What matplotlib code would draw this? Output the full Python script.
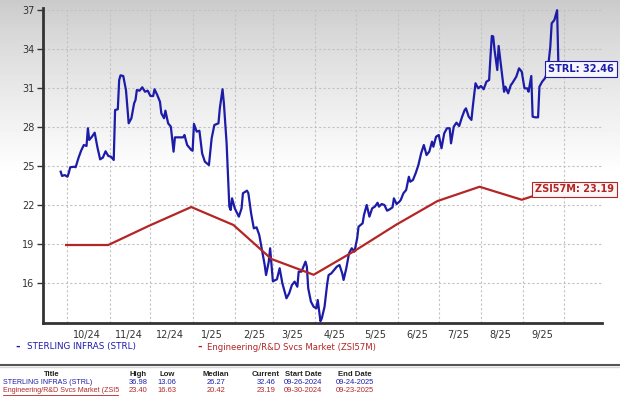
import numpy as np
import matplotlib.pyplot as plt
import matplotlib.transforms as mtransforms
from matplotlib.lines import Line2D

# STRL: days since 2024-09-26 and value
strl_days = [0, 1, 3, 5, 6, 7, 10, 11, 13, 15, 17, 19, 20, 21, 23, 25, 27, 29, 31, 33,
             35, 37, 39, 40, 42, 43, 44, 46, 48, 50, 52, 54, 55, 56, 58, 60, 62, 64, 66, 68,
             69, 71, 73, 74, 76, 77, 79, 81, 83, 84, 88, 90, 91, 93, 96, 97, 98, 100, 102, 104,
             106, 109, 111, 113, 116, 117, 119, 120, 122, 124, 125, 126, 128, 131, 133, 134, 137, 138, 140, 142,
             144, 146, 148, 150, 151, 153, 154, 156, 159, 161, 163, 165, 166, 168, 170, 172, 174, 175, 177, 180,
             181, 182, 184, 186, 188, 189, 191, 192, 194, 196, 197, 199, 201, 203, 205, 207, 208, 210, 212, 214,
             216, 218, 219, 222, 223, 225, 227, 229, 231, 233, 234, 236, 238, 240, 242, 244, 245, 247, 249, 250,
             252, 254, 256, 257, 259, 261, 263, 265, 267, 269, 271, 273, 274, 276, 278, 280, 282, 284, 286, 287,
             289, 291, 293, 295, 297, 298, 300, 302, 303, 305, 307, 309, 311, 313, 315, 316, 317, 318, 319, 321,
             322, 324, 325, 326, 327, 329, 331, 332, 335, 337, 339, 341, 343, 344, 346, 347, 349, 351, 352, 354,
             356, 358, 360, 361, 363, 365, 366]
strl_vals = [24.56, 24.23, 24.30, 24.17, 24.48, 24.90, 24.94, 24.90, 25.59, 26.17, 26.61, 26.54, 27.90, 27.00, 27.25, 27.56, 26.44, 25.51, 25.64, 26.13,
             25.77, 25.71, 25.46, 29.30, 29.36, 31.61, 31.97, 31.92, 30.84, 28.28, 28.67, 29.82, 30.07, 30.84, 30.79, 31.05, 30.71, 30.79, 30.38, 30.38,
             30.90, 30.46, 29.94, 29.05, 28.67, 29.25, 28.28, 28.02, 26.10, 27.20, 27.20, 27.20, 27.38, 26.61, 26.23, 26.17, 28.23, 27.64, 27.71, 25.97,
             25.33, 25.07, 27.13, 28.15, 28.28, 29.43, 30.90, 29.82, 26.74, 21.87, 21.61, 22.51, 21.74, 21.10, 21.74, 22.90, 23.10, 22.90, 21.36, 20.20,
             20.28, 19.69, 18.53, 17.38, 16.61, 17.64, 18.67, 16.13, 16.28, 17.13, 15.97, 15.20, 14.82, 15.20, 15.84, 16.10, 15.71, 16.87, 16.87, 17.64,
             17.25, 15.59, 14.56, 14.17, 14.05, 14.69, 13.06, 13.28, 14.17, 15.97, 16.61, 16.74, 17.00, 17.25, 17.38, 16.74, 16.23, 17.13, 18.28, 18.67,
             18.41, 19.44, 20.33, 20.59, 21.23, 22.00, 21.10, 21.74, 21.87, 22.17, 21.87, 22.07, 22.00, 21.56, 21.67, 21.82, 22.51, 22.07, 22.25, 22.38,
             22.90, 23.15, 24.17, 23.79, 23.92, 24.44, 25.07, 25.97, 26.61, 25.84, 26.10, 26.87, 26.48, 27.25, 27.38, 26.36, 27.51, 27.90, 27.90, 26.74,
             28.02, 28.33, 28.07, 28.74, 29.30, 29.43, 28.79, 28.54, 29.56, 31.36, 30.97, 31.15, 30.90, 31.48, 31.61, 33.41, 35.00, 34.96, 33.92, 32.38,
             34.23, 32.51, 31.61, 30.71, 31.10, 30.59, 31.23, 31.36, 31.87, 32.51, 32.25, 30.97, 30.97, 30.71, 31.92, 28.79, 28.74, 28.74, 31.10, 31.48,
             31.74, 32.25, 34.18, 35.97, 36.23, 36.98, 32.46]

zsi_dates = ['2024-09-30', '2024-10-31', '2024-11-30', '2024-12-31', '2025-01-31', '2025-02-28',
             '2025-03-31', '2025-04-30', '2025-05-31', '2025-06-30', '2025-07-31', '2025-08-31', '2025-09-23']
zsi_vals = [18.92, 18.92, 20.40, 21.84, 20.46, 17.84, 16.63, 18.46, 20.50, 22.30, 23.40, 22.40, 23.19]

month_starts = ['2024-10-01', '2024-11-01', '2024-12-01', '2025-01-01', '2025-02-01', '2025-03-01', '2025-04-01',
                '2025-05-01', '2025-06-01', '2025-07-01', '2025-08-01', '2025-09-01', '2025-10-01']
label_dates = ['2024-10-15', '2024-11-15', '2024-12-15', '2025-01-15', '2025-02-15', '2025-03-15',
               '2025-04-15', '2025-05-15', '2025-06-15', '2025-07-15', '2025-08-15', '2025-09-15']
month_labels = ['10/24', '11/24', '12/24', '1/25', '2/25', '3/25', '4/25', '5/25', '6/25', '7/25', '8/25', '9/25']
y_ticks = [16, 19, 22, 25, 28, 31, 34, 37]

table_header = ['Title', 'High', 'Low', 'Median', 'Current', 'Start Date', 'End Date']
table_rows = [['STERLING INFRAS (STRL)', '36.98', '13.06', '26.27', '32.46', '09-26-2024', '09-24-2025'],
              ['Engineering/R&D Svcs Market (ZSI5', '23.40', '16.63', '20.42', '23.19', '09-30-2024', '09-23-2025']]

blue = '#1c1ca8'
red = '#b42525'

W, H = 620, 398
fig = plt.figure(figsize=(W / 100, H / 100), dpi=100)

# grey-to-white gradient behind the top of the figure
bg = fig.add_axes([0, 0, 1, 1], zorder=-10)
rows = np.arange(H)
shade = np.clip(0.79 + 0.21 * (rows / 175.0) ** 0.8, 0, 1)
bg.imshow(shade[:, None], cmap='gray', vmin=0, vmax=1, aspect='auto', extent=[0, 1, 0, 1])
bg.set_xlim(0, 1)
bg.set_ylim(0, 1)
bg.axis('off')

ax = fig.add_axes([43 / W, 1 - 323 / H, (602 - 43) / W, (323 - 8) / H])
ax.patch.set_alpha(0)

strl_dates = np.datetime64('2024-09-26') + np.array(strl_days).astype('timedelta64[D]')
ax.plot(strl_dates, strl_vals, color=blue, lw=1.6, zorder=3)
ax.plot(np.array(zsi_dates, dtype='datetime64[D]'), zsi_vals, color=red, lw=1.6, zorder=3)

ax.set_xlim(np.datetime64('2024-09-13'), np.datetime64('2025-10-29'))
ax.set_ylim(12.92, 37.15)
ax.set_yticks(y_ticks)
ax.set_xticks(np.array(month_starts, dtype='datetime64[D]'))
ax.xaxis.set_major_formatter(plt.NullFormatter())
ax.set_xticks(np.array(label_dates, dtype='datetime64[D]'), minor=True)
ax.set_xticklabels(month_labels, minor=True)
ax.grid(True, which='major', ls=(0, (2, 2)), color='#c2c2c2', lw=0.8)
ax.tick_params(axis='x', which='both', length=0, labelsize=7, labelcolor='#333333', pad=5)
ax.tick_params(axis='y', length=4, width=1, color='#333333', labelsize=7, labelcolor='#333333', pad=2)
for s in ['top', 'right']:
    ax.spines[s].set_visible(False)
for s in ['left', 'bottom']:
    ax.spines[s].set_linewidth(2)
    ax.spines[s].set_color('#333333')

# value callouts at the right edge
trans = mtransforms.blended_transform_factory(fig.transFigure, ax.transData)
ax.text(614 / W, strl_vals[-1], f'STRL: {strl_vals[-1]:.2f}', transform=trans, ha='right', va='center',
        fontsize=7, fontweight='bold', color=blue, clip_on=False, zorder=5,
        bbox=dict(boxstyle='square,pad=0.3', fc='#f6f6fc', ec=blue, lw=0.8))
ax.text(614 / W, zsi_vals[-1], f'ZSI57M: {zsi_vals[-1]:.2f}', transform=trans, ha='right', va='center',
        fontsize=7, fontweight='bold', color=red, clip_on=False, zorder=5,
        bbox=dict(boxstyle='square,pad=0.3', fc='#fcf6f6', ec=red, lw=0.8))

# legend
fig.text(15 / W, 1 - 347 / H, '-', color=blue, fontsize=8, fontweight='bold', va='center')
fig.text(27 / W, 1 - 347 / H, 'STERLING INFRAS (STRL)', color=blue, fontsize=6.3, va='center')
fig.text(197 / W, 1 - 347 / H, '-', color=red, fontsize=8, fontweight='bold', va='center')
fig.text(207 / W, 1 - 347 / H, 'Engineering/R&D Svcs Market (ZSI57M)', color=red, fontsize=6.1, va='center')

# separator
fig.add_artist(Line2D([0, 1], [1 - 365 / H] * 2, color='#555555', lw=1.5, transform=fig.transFigure))
fig.add_artist(Line2D([0, 1], [1 - 367 / H] * 2, color='#d8d8d8', lw=1, transform=fig.transFigure))

# summary table
col_x = [52, 138, 167, 216, 266, 303, 355]
tfont = dict(family='Liberation Sans', va='center')
for x, h in zip(col_x, table_header):
    fig.text(x / W, 1 - 374 / H, h, ha='center', fontweight='bold', color='#222222', fontsize=5.6, **tfont)
for row, col, yy in zip(table_rows, [blue, red], [383, 391]):
    fig.text(3 / W, 1 - yy / H, row[0], ha='left', color=col, fontsize=5.1, **tfont)
    for x, v in zip(col_x[1:], row[1:]):
        fig.text(x / W, 1 - yy / H, v, ha='center', color=col, fontsize=5.4, **tfont)
fig.add_artist(Line2D([3 / W, 118 / W], [1 - 395 / H] * 2, color=red, lw=0.6, transform=fig.transFigure))

fig.savefig('out.png', dpi=100)
